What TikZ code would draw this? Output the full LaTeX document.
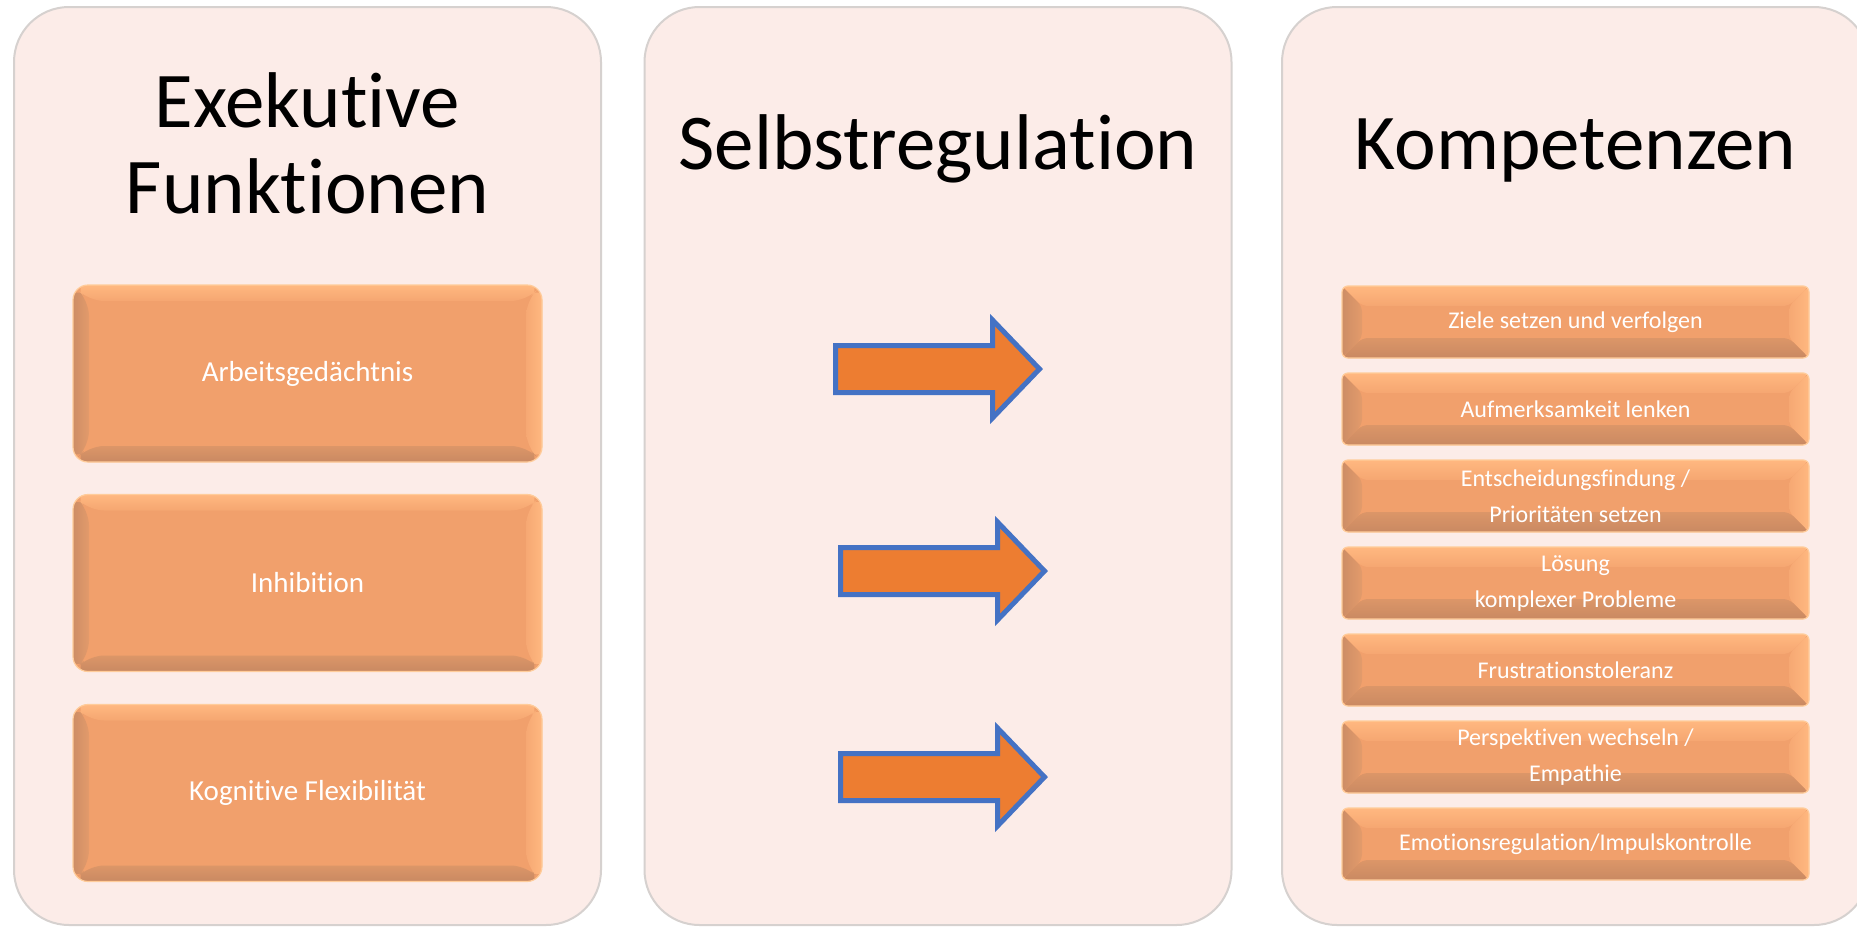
\documentclass[tikz,border=0pt]{standalone}
\usepackage{fontspec}
\setmainfont{Carlito}[Ligatures=NoCommon]
\definecolor{panelfill}{HTML}{FCECE8}
\definecolor{panelline}{HTML}{D6D1CF}
\definecolor{face}{HTML}{F1A06C}
\definecolor{rim}{HTML}{FFCC9A}
\definecolor{topA}{HTML}{FFB880}
\definecolor{topB}{HTML}{F5A671}
\definecolor{botA}{HTML}{DC9668}
\definecolor{botB}{HTML}{C98962}
\definecolor{leftA}{HTML}{CD8D66}
\definecolor{leftB}{HTML}{E39B6B}
\definecolor{rightA}{HTML}{F6A873}
\definecolor{rightB}{HTML}{FFB880}
\definecolor{arrowfill}{HTML}{ED7D31}
\definecolor{arrowline}{HTML}{4472C4}
\newcommand\bevelpic[1]{%
  \path (path picture bounding box.north west) coordinate (bNW)
        (path picture bounding box.north east) coordinate (bNE)
        (path picture bounding box.south west) coordinate (bSW)
        (path picture bounding box.south east) coordinate (bSE);
  \shade[left color=leftA, right color=leftB] (bNW) -- ([shift={(#1,-#1)}]bNW) -- ([shift={(#1,#1)}]bSW) -- (bSW) -- cycle;
  \shade[left color=rightA, right color=rightB] (bNE) -- ([shift={(-#1,-#1)}]bNE) -- ([shift={(-#1,#1)}]bSE) -- (bSE) -- cycle;
  \shade[top color=topA, bottom color=topB] (bNW) -- (bNE) -- ([shift={(-#1,-#1)}]bNE) -- ([shift={(#1,-#1)}]bNW) -- cycle;
  \shade[top color=botA, bottom color=botB] (bSW) -- (bSE) -- ([shift={(-#1,#1)}]bSE) -- ([shift={(#1,#1)}]bSW) -- cycle;
}
\newcommand\blockarrow[3]{% name, x of shaft start, y centre
  \draw[blockarr] (#2,#3-23.5) coordinate (#1) -- (#2+157,#3-23.5) -- (#2+157,#3-49)
     -- (#2+204,#3) -- (#2+157,#3+49) -- (#2+157,#3+23.5) -- (#2,#3+23.5) -- cycle;
}
\begin{document}
\begin{tikzpicture}[x=0.5pt,y=-0.5pt,
  panel/.style={draw=panelline, line width=1pt, fill=panelfill, rounded corners=27.5pt,
    minimum width=293.5pt, minimum height=459pt, inner sep=0pt},
  title/.style={font=\fontsize{39.5}{43}\selectfont, text=black, inner sep=0pt, anchor=base},
  lbox/.style={draw=rim, line width=0.6pt, fill=face, rounded corners=7.5pt,
    minimum width=234.5pt, minimum height=88.5pt, inner sep=0pt,
    path picture={\bevelpic{8pt}},
    text=white, font=\fontsize{14.5}{18}\selectfont},
  rbox/.style={draw=rim, line width=0.6pt, fill=face, rounded corners=3pt,
    minimum width=233.5pt, minimum height=36pt, inner sep=0pt,
    path picture={\bevelpic{10pt}},
    text=white, font=\fontsize{12}{18}\selectfont, align=center},
  blockarr/.style={draw=arrowline, line width=2.5pt, fill=arrowfill, miter limit=10}
]
\useasboundingbox (0,0) rectangle (1857,926);
\clip (0,0) rectangle (1857,926);
\fill[white] (0,0) rectangle (1857,926);

% panels
\node[panel] (p1) at (307.5,466) {};
\node[panel] (p2) at (938,466) {};
\node[panel] (p3) at (1575.5,466) {};

% titles
\node[title] (t1a) at (307.5,127) {Exekutive};
\node[title] (t1b) at (307.5,213) {Funktionen};
\node[title] (t2) at (938,169) {Selbstregulation};
\node[title] (t3) at (1575.5,169) {Kompetenzen};

% left boxes
\node[lbox] (a1) at (307.5,373.5) {Arbeitsgedächtnis};
\node[lbox] (a2) at (307.5,583) {Inhibition};
\node[lbox] (a3) at (307.5,793) {Kognitive Flexibilität};

% arrows
\blockarrow{arr1}{835.5}{369}
\blockarrow{arr2}{840.5}{571}
\blockarrow{arr3}{840.5}{777}

% right boxes
\node[rbox] (k1) at (1575.5,322) {Ziele setzen und verfolgen};
\node[rbox] (k2) at (1575.5,409) {Aufmerksamkeit lenken};
\node[rbox] (k3) at (1575.5,496) {Entscheidungsfindung /\\Prioritäten setzen};
\node[rbox] (k4) at (1575.5,583) {Lösung\\komplexer Probleme};
\node[rbox] (k5) at (1575.5,670) {Frustrationstoleranz};
\node[rbox] (k6) at (1575.5,757) {Perspektiven wechseln /\\Empathie};
\node[rbox] (k7) at (1575.5,844) {Emotionsregulation/Impulskontrolle};
\end{tikzpicture}
\end{document}
